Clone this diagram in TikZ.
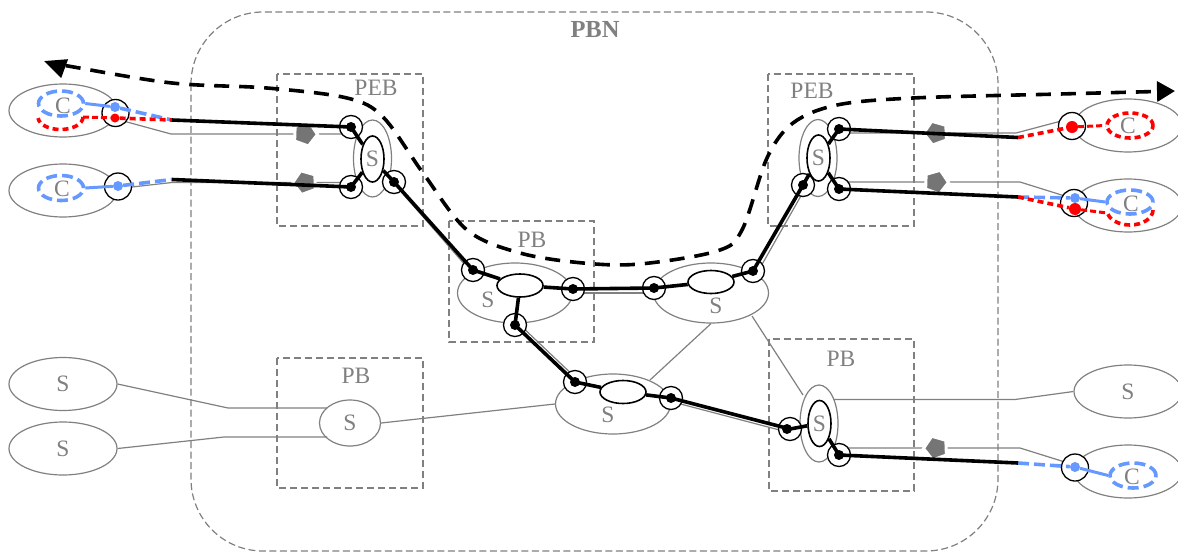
\documentclass[tikz,border=0pt]{standalone}
\usepackage{fontspec}
\setmainfont{Liberation Serif}
\usetikzlibrary{arrows.meta,positioning,shapes.geometric,calc}
\definecolor{pbgray}{HTML}{808080}
\definecolor{pbdark}{HTML}{757575}
\definecolor{pbblue}{HTML}{6699FF}
\definecolor{pbred}{HTML}{FF0000}

\begin{document}
\begin{tikzpicture}[x=1pt,y=-1pt,
  pbnbox/.style={draw=pbgray,line width=1.2pt,dash pattern=on 7pt off 3.5pt,rounded corners=72pt},
  bridge/.style={draw=pbgray,line width=1.6pt,dash pattern=on 7pt off 4pt},
  lbl/.style={font=\fontsize{23.5}{25}\selectfont,text=pbgray,inner sep=0pt},
  sw/.style={ellipse,draw=pbgray,line width=1.2pt,inner sep=0pt,font=\fontsize{23.5}{25}\selectfont,text=pbgray},
  big/.style={sw,minimum width=108pt,minimum height=53pt},
  mid/.style={sw,minimum width=115pt,minimum height=60pt},
  tall/.style={sw,minimum width=38pt,minimum height=77pt},
  fwd/.style={ellipse,draw=black,fill=white,line width=1.6pt,inner sep=0pt,font=\fontsize{23.5}{25}\selectfont,text=pbgray},
  fwdh/.style={fwd,minimum width=46pt,minimum height=23pt},
  fwdv/.style={fwd,minimum width=23pt,minimum height=46pt},
  port/.style={circle,draw=black,fill=white,line width=1.3pt,inner sep=0pt,minimum size=23pt},
  cport/.style={port,minimum size=27pt},
  blackdot/.style={circle,fill=black,inner sep=0pt,minimum size=10pt},
  bluedot/.style={circle,fill=pbblue,inner sep=0pt,minimum size=10pt},
  reddot/.style={circle,fill=pbred,inner sep=0pt,minimum size=9pt},
  penta/.style={regular polygon,regular polygon sides=5,fill=pbdark,draw=white,line width=3pt,inner sep=0pt,minimum size=25pt},
  wire/.style={draw=pbgray,line width=1.2pt},
  tun/.style={draw=black,line width=3.6pt},
  bluedash/.style={draw=pbblue,line width=3.6pt,dash pattern=on 11pt off 5pt},
  reddash/.style={draw=pbred,line width=3.6pt,dash pattern=on 6pt off 4pt},
  bluelink/.style={draw=pbblue,line width=3pt},
  redlink/.style={draw=pbred,line width=3pt,dash pattern=on 6pt off 3pt},
  flow/.style={draw=black,line width=3.6pt,dash pattern=on 15pt off 10pt}
]
  \useasboundingbox (0,0) rectangle (1178,552);

  % ---- Domain and bridges --------------------------------------
  \draw[pbnbox] (191,12) rectangle (998,551);
  \draw[bridge] (277,74) rectangle (423,226);
  \draw[bridge] (768,74) rectangle (914,226);
  \draw[bridge] (449,221) rectangle (594,342);
  \draw[bridge] (277,358) rectangle (423,488);
  \draw[bridge] (769,339) rectangle (914,491);
  \node[lbl,font=\fontsize{24.5}{26}\selectfont\bfseries] (tPBN) at (595,30) {PBN};
  \node[lbl] (tPEBa) at (376,88) {PEB};
  \node[lbl] (tPEBb) at (812,91) {PEB};
  \node[lbl] (tPBa) at (532,240) {PB};
  \node[lbl] (tPBb) at (356,376) {PB};
  \node[lbl] (tPBc) at (841,359) {PB};

  % ---- Bends of the access wires -------------------------------
  \coordinate (Ja) at (172,120);
  \coordinate (Jb) at (172,179.5);
  \coordinate (Jc) at (1018,137.5);
  \coordinate (Jd) at (1018,197);
  \coordinate (Je) at (1018,463);
  \coordinate (Ga) at (171,134);
  \coordinate (Gb) at (172,182.5);
  \coordinate (Gc) at (1016,133);
  \coordinate (Gd) at (1020,182);
  \coordinate (Ge) at (1020,448);
  \coordinate (Ha) at (228,408);
  \coordinate (Hb) at (224,437);
  \coordinate (Hc) at (1015,399.5);

  % ---- Outer switches and customers ----------------------------
  \node[big] (Ca) at (63,110.5) {};
  \node[big] (Cb) at (63,190.5) {};
  \node[big] (Cc) at (1128,125.5) {};
  \node[big] (Cd) at (1128,205.5) {};
  \node[big] (Ce) at (1128,471.5) {};
  \node[big] (Sa) at (63,384) {S};
  \node[big] (Sb) at (63,448.5) {S};
  \node[big] (Sc) at (1128,391.5) {S};
  \node[sw,minimum width=61pt,minimum height=46pt] (Sd) at (350,423) {S};
  \node[tall] (Ea) at (372.5,158.5) {};
  \node[tall] (Eb) at (818,158) {};
  \node[tall] (Ec) at (819,423.5) {};
  \node[mid] (Ma) at (515,293) {};
  \node[mid] (Mb) at (711,293) {};
  \node[mid] (Mc) at (613,404) {};
  \node[lbl] (tSa) at (488,300) {S};
  \node[lbl] (tSb) at (716,306) {S};
  \node[lbl] (tSc) at (608,415) {S};

  % ---- Port positions ------------------------------------------
  \coordinate (Ka) at (345,134);
  \coordinate (Kb) at (345,182.5);
  \coordinate (Kc) at (845,133);
  \coordinate (Kd) at (845,182);
  \coordinate (Ke) at (845,448);
  \coordinate (Kf) at (327,408);
  \coordinate (Kg) at (327,437);

  % ---- Gray wires ----------------------------------------------
  \draw[wire] (116,119) -- (Ga) -- (Ka);
  \draw[wire] (123,188) -- (Gb) -- (Kb);
  \draw[wire] (Kc) -- (Gc) -- (1065,120);
  \draw[wire] (Kd) -- (Gd) -- (1068,197);
  \draw[wire] (Ke) -- (Ge) -- (1068,463);
  \draw[wire] (Sa.east) -- (Ha) -- (Kf);
  \draw[wire] (Sb.east) -- (Hb) -- (Kg);
  \draw[wire] (Sd.east) -- (Mc.west);
  \draw[wire] (Mb.south) -- (650,380);
  \draw[wire] (752,316) -- (803,395);
  \draw[wire] (834,399.5) -- (Hc) -- (Sc.west);
  \draw[wire] (397,187) -- (473,274);
  \draw[wire] (573,293) -- (654,293);
  \draw[wire] (806,187) -- (756,275);
  \draw[wire] (518,323) -- (578,380);
  \draw[wire] (673,402) -- (787,432);

  % ---- Pentagons ------------------------------------------------
  \node[penta,rotate=-20] (Na) at (305,134) {};
  \node[penta,rotate=20] (Nb) at (305,182.5) {};
  \node[penta,rotate=20] (Nc) at (936,133) {};
  \node[penta,rotate=-20] (Nd) at (936,182) {};
  \node[penta,rotate=20] (Ne) at (936,448) {};

  % ---- Ports ----------------------------------------------------
  \node[cport] (Pa) at (115.5,113) {};
  \node[cport] (Pb) at (118,186.5) {};
  \node[cport] (Pc) at (1072,126) {};
  \node[cport] (Pd) at (1074,203) {};
  \node[cport] (Pe) at (1075,467.5) {};
  \node[port] (Qa) at (351,127) {};
  \node[port] (Qb) at (351,187) {};
  \node[port] (Qc) at (394,182) {};
  \node[port] (Qd) at (839,129) {};
  \node[port] (Qe) at (803,185) {};
  \node[port] (Qf) at (839,189) {};
  \node[port] (Qg) at (473,270) {};
  \node[port] (Qh) at (573,289) {};
  \node[port] (Qi) at (515,325) {};
  \node[port] (Qj) at (654,288) {};
  \node[port] (Qk) at (753,271) {};
  \node[port] (Ql) at (575,382) {};
  \node[port] (Qm) at (671,398) {};
  \node[port] (Qn) at (790,429) {};
  \node[port] (Qo) at (839,455) {};

  % ---- Forwarders -----------------------------------------------
  \node[fwdv] (Fa) at (372.5,159) {S};
  \node[fwdv] (Fb) at (818.5,158) {S};
  \node[fwdv] (Fc) at (819.5,423.5) {S};
  \node[fwdh] (Fd) at (520,285.5) {};
  \node[fwdh] (Fe) at (711,282) {};
  \node[fwdh] (Ff) at (623,392) {};

  % ---- Customer ellipses ----------------------------------------
  \node[ellipse,bluedash,minimum width=45pt,minimum height=25pt,inner sep=0pt] (Ba) at (61,103.5) {};
  \node[ellipse,bluedash,minimum width=45pt,minimum height=25pt,inner sep=0pt] (Bb) at (61,188) {};
  \node[ellipse,bluedash,minimum width=46pt,minimum height=24pt,inner sep=0pt] (Bd) at (1130,202) {};
  \node[ellipse,bluedash,minimum width=46pt,minimum height=25pt,inner sep=0pt] (Be) at (1133,475.5) {};
  \node[ellipse,reddash,minimum width=46pt,minimum height=25pt,inner sep=0pt] (Rc) at (1130,125.5) {};
  \coordinate (Ra) at (83,117);
  \coordinate (Rd) at (1153,210);
  \draw[reddash] (Ra) arc[start angle=0,end angle=175,x radius=22.5,y radius=12.5];
  \draw[reddash] (Rd) arc[start angle=0,end angle=175,x radius=23,y radius=15];
  \node[lbl] (tCa) at (63,106) {C};
  \node[lbl] (tCb) at (62,189) {C};
  \node[lbl] (tCc) at (1128,126) {C};
  \node[lbl] (tCd) at (1131,204) {C};
  \node[lbl] (tCe) at (1132,477) {C};

  % ---- Access segments ------------------------------------------
  \node[bluedot] (Da) at (115,107) {};
  \node[bluedot] (Db) at (118,186) {};
  \node[bluedot] (Dd) at (1075,198) {};
  \node[bluedot] (De) at (1075,467) {};
  \node[reddot] (Xa) at (115,118) {};
  \node[reddot,minimum size=12pt] (Xc) at (1072,127) {};
  \node[reddot,minimum size=12pt] (Xd) at (1075,209) {};
  \draw[bluelink] (Ba.east) -- (Da);
  \draw[bluelink] (Bb.east) -- (Db);
  \draw[bluelink] (Dd) -- (Bd.west);
  \draw[bluelink] (De) -- (Be.west);
  \draw[bluedash] (Da) -- (Ja);
  \draw[bluedash] (Db) -- (Jb);
  \draw[bluedash] (Jd) -- (Dd);
  \draw[bluedash] (Je) -- (De);
  \draw[redlink] (Ra) -- (Xa);
  \draw[reddash] (Xa) -- (Ja);
  \draw[reddash] (Jc) -- (Xc);
  \draw[redlink] (Xc) -- (Rc.west);
  \draw[reddash] (Jd) -- (Xd);
  \draw[redlink] (Xd) -- (1107,213);

  % ---- Tunnel segments ------------------------------------------
  \draw[tun] (Ja) -- (Qa.center);
  \draw[tun] (Jb) -- (Qb.center);
  \draw[tun] (Qd.center) -- (Jc);
  \draw[tun] (Qf.center) -- (Jd);
  \draw[tun] (Qo.center) -- (Je);
  \draw[tun] (Qa.center) -- (Fa);
  \draw[tun] (Qb.center) -- (Fa);
  \draw[tun] (Qc.center) -- (Fa);
  \draw[tun] (Qd.center) -- (Fb);
  \draw[tun] (Qe.center) -- (Fb);
  \draw[tun] (Qf.center) -- (Fb);
  \draw[tun] (Qn.center) -- (Fc);
  \draw[tun] (Qo.center) -- (Fc);
  \draw[tun] (Qc.center) -- (Qg.center);
  \draw[tun] (Qg.center) -- (Fd);
  \draw[tun] (Qh.center) -- (Fd);
  \draw[tun] (Qi.center) -- (Fd);
  \draw[tun] (Qh.center) -- (Qj.center);
  \draw[tun] (Qj.center) -- (Fe);
  \draw[tun] (Qk.center) -- (Fe);
  \draw[tun] (Qk.center) -- (Qe.center);
  \draw[tun] (Qi.center) -- (Ql.center);
  \draw[tun] (Ql.center) -- (Ff);
  \draw[tun] (Qm.center) -- (Ff);
  \draw[tun] (Qm.center) -- (Qn.center);
  \foreach \p/\q in {Qa/a,Qb/b,Qc/c,Qd/d,Qe/e,Qf/f,Qg/g,Qh/h,Qi/i,Qj/j,Qk/k,Ql/l,Qm/m,Qo/o}
    \node[blackdot] (dot\q) at (\p) {};
  \node[blackdot] (dotn) at (787,429) {};

  % ---- Traffic flow ---------------------------------------------
  \coordinate (FlowL) at (44,61);
  \coordinate (FlowR) at (1175,91);
  \draw[flow,{Stealth[length=22pt,width=19pt,inset=0pt]}-{Stealth[length=18pt,width=20pt,inset=0pt]}]
    plot[smooth,tension=0.55] coordinates {(FlowL) (68,66) (172,83) (267,88) (347,98) (383,117) (423,173)
      (467,230) (520,253) (583,263) (640,264) (717,251) (742,230) (767,158) (793,123) (837,105) (913,98)
      (1060,94) (FlowR)};
\end{tikzpicture}
\end{document}
